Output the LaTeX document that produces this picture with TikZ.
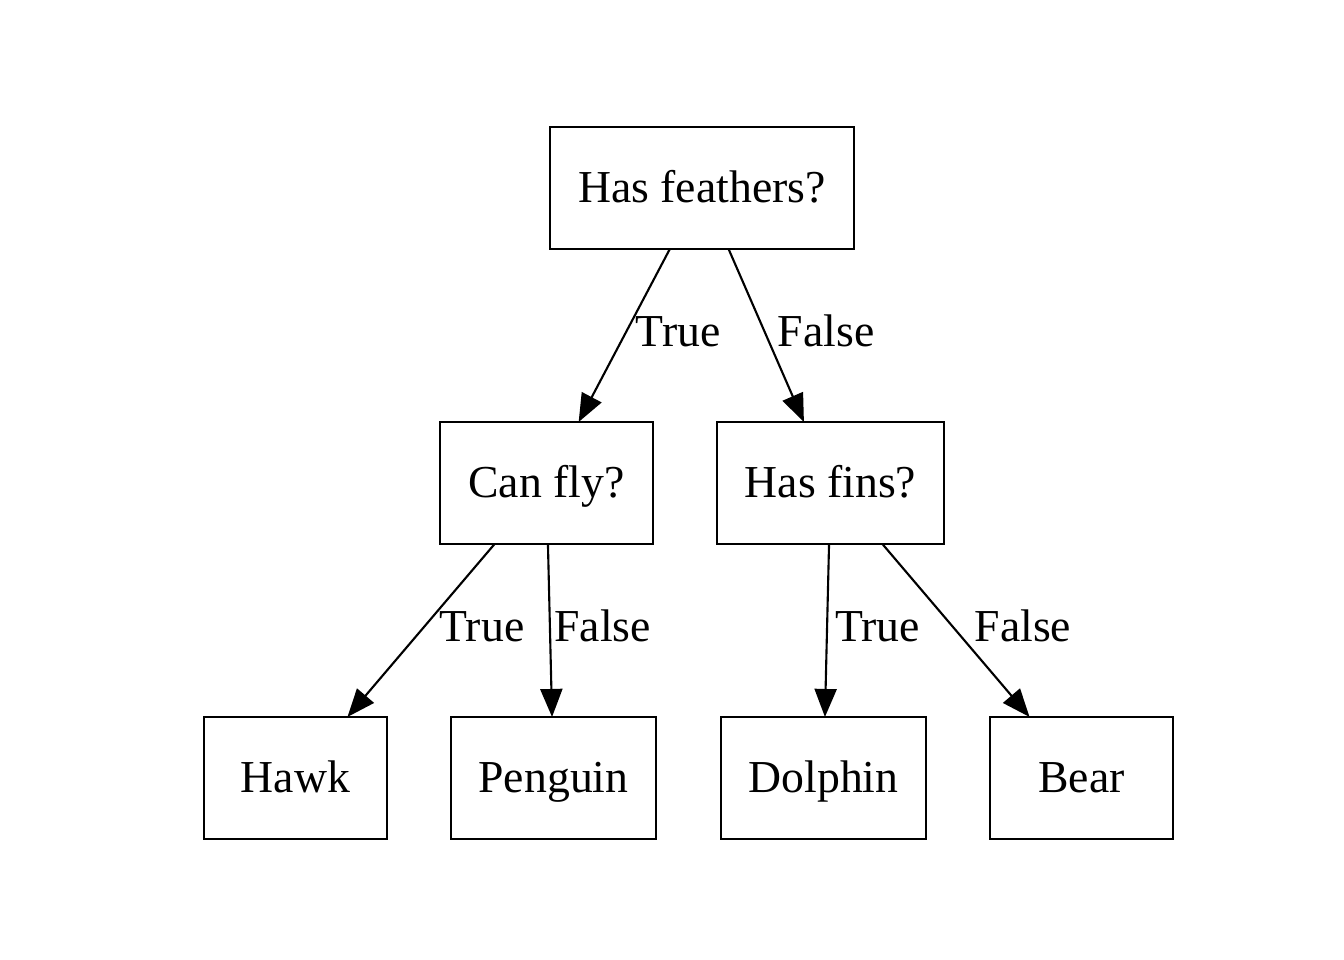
\documentclass[tikz,border=0pt]{standalone}
\usepackage{fontspec}
\setmainfont{Liberation Serif}
\usetikzlibrary{arrows.meta}

\tikzset{
  box/.style={draw, line width=0.6pt, minimum width=1.83cm, minimum height=1.22cm,
    inner xsep=0.28cm, outer sep=0pt, text height=11pt, text depth=2.5pt,
    font=\fontsize{13}{15}\selectfont},
  edge/.style={line width=0.6pt, -{Triangle[length=0.28cm, width=0.22cm]}},
  lbl/.style={midway, right, inner sep=3pt, text height=9.5pt, text depth=3pt,
    font=\fontsize{13}{15}\selectfont}
}

\begin{document}
\begin{tikzpicture}[x=0.01cm, y=-0.01cm]
    \useasboundingbox (0,0) rectangle (1344,960);

    % Root question
    \node[box] (feathers) at (702,188) {Has feathers?};

    % Second level
    \node[box] (canfly) at (546.5,483) {Can fly?};
    \node[box] (fins) at (830.5,483) {Has fins?};

    % Leaves
    \node[box] (hawk) at (295.5,778) {Hawk};
    \node[box] (penguin) at (553.5,778) {Penguin};
    \node[box] (dolphin) at (823.5,778) {Dolphin};
    \node[box] (bear) at (1081.5,778) {Bear};

    % Edges
    \draw[edge] (feathers) -- (canfly) node[lbl] {True};
    \draw[edge] (feathers) -- (fins) node[lbl] {False};
    \draw[edge] (canfly) -- (hawk) node[lbl, xshift=2pt] {True};
    \draw[edge] (canfly) -- (penguin) node[lbl, xshift=-2pt] {False};
    \draw[edge] (fins) -- (dolphin) node[lbl, xshift=-1pt] {True};
    \draw[edge] (fins) -- (bear) node[lbl, xshift=2pt] {False};
\end{tikzpicture}
\end{document}
